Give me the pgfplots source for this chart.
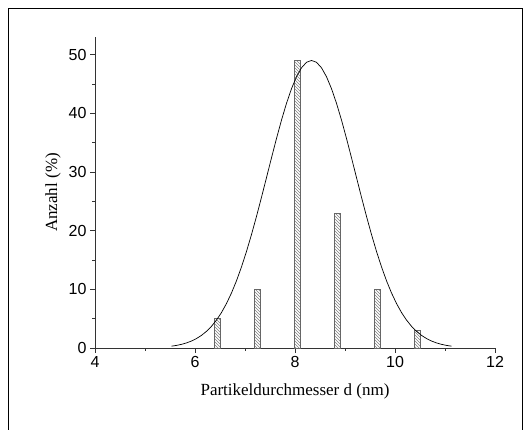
\documentclass[border=0pt]{standalone}
\usepackage{fontspec}
\setmainfont{Liberation Serif}
\newfontfamily\arial{Liberation Sans}
\usepackage{pgfplots}
\pgfplotsset{compat=1.18}
\usetikzlibrary{patterns}
\begin{document}
\begin{tikzpicture}[x=1pt,y=1pt]
\useasboundingbox (0,0) rectangle (532,430);
\draw[line width=1.4pt] (8.5,-10) -- (8.5,421.5) -- (522.5,421.5) -- (522.5,-10);
\begin{axis}[
  at={(95pt,82pt)}, anchor=south west,
  scale only axis, width=400pt, height=311pt,
  xmin=4, xmax=12, ymin=0, ymax=53,
  axis x line=bottom, axis y line=left,
  axis line style={-, line width=0.9pt, black!80},
  xtick={4,6,8,10,12}, minor x tick num=1,
  ytick={0,10,20,30,40,50}, minor y tick num=1,
  tick align=outside, major tick length=5pt, minor tick length=3pt,
  tick style={line width=0.8pt, black!80},
  /pgf/number format/assume math mode=true,
  ticklabel style={font=\arial\fontsize{16}{16}\selectfont},
  label style={font=\fontsize{17}{19}\selectfont},
  xlabel={Partikeldurchmesser d (nm)},
  ylabel={Anzahl (\%)},
  xlabel style={yshift=-9pt},
  ylabel style={yshift=1pt},
  clip=false,
]
\addplot[ybar, bar width=6pt, draw=black!60, line width=0.6pt, fill=white, postaction={pattern=north west lines, pattern color=gray}] coordinates {
(6.45,5) (7.25,10) (8.05,49) (8.85,23) (9.65,10) (10.45,3)};
\addplot[black, line width=0.7pt, mark=none] coordinates {
(5.53,0.310) (5.63,0.443) (5.73,0.623) (5.83,0.866) (5.93,1.189) (6.03,1.611)
(6.13,2.153) (6.23,2.842) (6.33,3.703) (6.43,4.763) (6.53,6.048) (6.63,7.583)
(6.73,9.383) (6.83,11.46) (6.93,13.82) (7.03,16.46) (7.13,19.34) (7.23,22.43)
(7.33,25.69) (7.43,29.04) (7.53,32.41) (7.63,35.71) (7.73,38.84) (7.83,41.70)
(7.93,44.19) (8.03,46.23) (8.13,47.75) (8.23,48.69) (8.33,49.00) (8.43,48.69)
(8.53,47.75) (8.63,46.23) (8.73,44.19) (8.83,41.70) (8.93,38.84) (9.03,35.71)
(9.13,32.41) (9.23,29.04) (9.33,25.69) (9.43,22.43) (9.53,19.34) (9.63,16.46)
(9.73,13.82) (9.83,11.46) (9.93,9.383) (10.03,7.583) (10.13,6.048) (10.23,4.763)
(10.33,3.703) (10.43,2.842) (10.53,2.153) (10.63,1.611) (10.73,1.189) (10.83,0.866)
(10.93,0.623) (11.03,0.443) (11.13,0.310)};
\end{axis}
\end{tikzpicture}
\end{document}
